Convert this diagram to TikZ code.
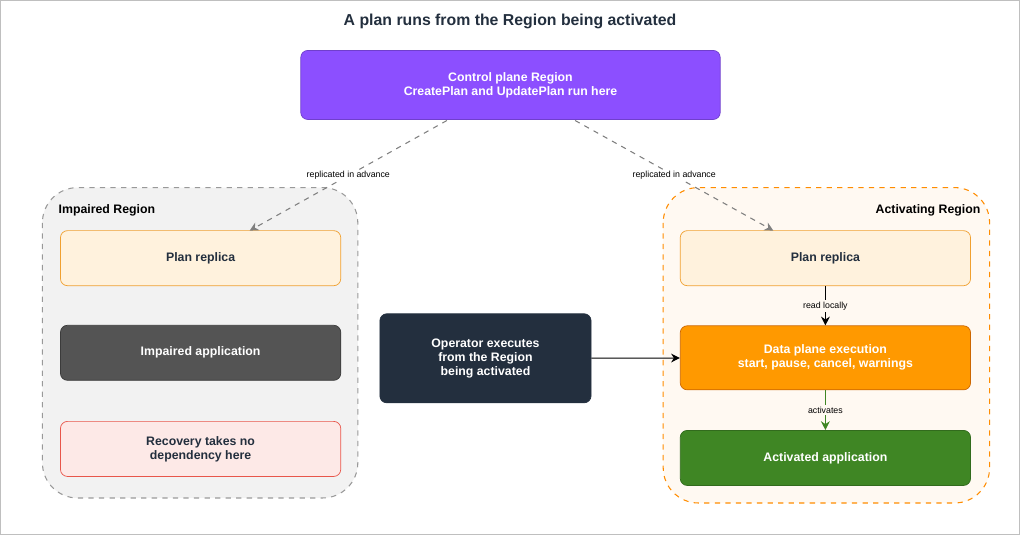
\documentclass[tikz,border=0pt]{standalone}
\usepackage{fontspec}
\setmainfont{Liberation Sans}
\usetikzlibrary{arrows.meta}
\definecolor{purp}{HTML}{8C4FFF}
\definecolor{ink}{HTML}{232F3E}
\definecolor{grayapp}{HTML}{545454}
\definecolor{orangeapp}{HTML}{FF9900}
\definecolor{greenapp}{HTML}{3F8624}
\definecolor{replicafill}{HTML}{FFF2DD}
\definecolor{replicaline}{HTML}{F0A030}
\definecolor{riskfill}{HTML}{FDE9E7}
\definecolor{riskline}{HTML}{E8564B}
\begin{document}
\begin{tikzpicture}[x=0.02cm,y=-0.02cm,
  box/.style={draw,rounded corners=4pt,align=center,font=\bfseries\scriptsize,minimum width=5.6cm,minimum height=1.1cm},
  region/.style={dashed,rounded corners=20pt,line width=0.6pt},
  lbl/.style={font=\tiny,fill=white,inner sep=1pt},
  flow/.style={-{Stealth[length=5pt,width=5pt]},line width=0.6pt}]
  % frame
  \draw[gray!50] (1,1) rectangle (1019,534);
  \node[font=\bfseries\small,text=ink] (title) at (510,22) {A plan runs from the Region being activated};

  % regions
  \draw[region,draw=gray!80,fill=gray!10] (43,188) rectangle (358,498);
  \node[anchor=west,font=\bfseries\scriptsize] (impaired) at (53,211) {Impaired Region};
  \draw[region,draw=orange!90!yellow,fill=orange!5] (663,188) rectangle (989,503);
  \node[anchor=east,font=\bfseries\scriptsize] (activating) at (986,211) {Activating Region};

  % boxes
  \node[box,fill=purp,draw=purp!80!black,text=white,minimum width=8.38cm,minimum height=1.38cm] (control) at (510.5,85.5) {Control plane Region\\CreatePlan and UpdatePlan run here};
  \node[box,fill=replicafill,draw=replicaline,text=ink] (replicaL) at (201,258.5) {Plan replica};
  \node[box,fill=grayapp,draw=grayapp!70!black,text=white] (impairedapp) at (201,353) {Impaired application};
  \node[box,fill=riskfill,draw=riskline,text=ink] (recovery) at (201,449) {Recovery takes no\\dependency here};
  \node[box,fill=ink,draw=ink,text=white,minimum width=4.22cm,minimum height=1.78cm] (operator) at (485.5,358.5) {Operator executes\\from the Region\\being activated};
  \node[box,fill=replicafill,draw=replicaline,text=ink,minimum width=5.8cm] (replicaR) at (825,258.5) {Plan replica};
  \node[box,fill=orangeapp,draw=orange!80!black,text=white,minimum width=5.8cm,minimum height=1.28cm] (dataplane) at (825,358) {Data plane execution\\start, pause, cancel, warnings};
  \node[box,fill=greenapp,draw=greenapp!80!black,text=white,minimum width=5.8cm] (activated) at (825,458) {Activated application};

  % connectors
  \coordinate (cpL) at (447,121);
  \coordinate (cpR) at (575,121);
  \coordinate (rpL) at (250,231);
  \coordinate (rpR) at (773,231);
  \draw[flow,dashed,gray] (cpL) -- (rpL) node[lbl,text=black,pos=0.5] {replicated in advance};
  \draw[flow,dashed,gray] (cpR) -- (rpR) node[lbl,text=black,pos=0.5] {replicated in advance};
  \draw[flow] (replicaR) -- (dataplane) node[lbl,midway,fill=orange!5] {read locally};
  \draw[flow,greenapp] (dataplane) -- (activated) node[lbl,midway,text=black,fill=orange!5] {activates};
  \draw[flow] (operator) -- (dataplane);
\end{tikzpicture}
\end{document}
